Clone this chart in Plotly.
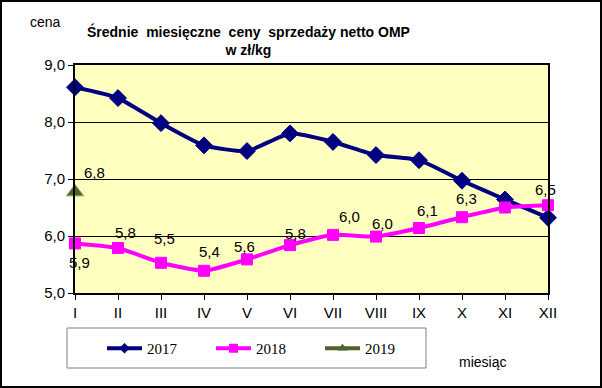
import plotly.graph_objects as go

months = ["I", "II", "III", "IV", "V", "VI", "VII", "VIII", "IX", "X", "XI", "XII"]
y2017 = [8.61, 8.42, 7.98, 7.59, 7.49, 7.80, 7.65, 7.42, 7.33, 6.97, 6.64, 6.32]
y2018 = [5.87, 5.79, 5.53, 5.39, 5.59, 5.84, 6.02, 5.99, 6.14, 6.33, 6.50, 6.54]
y2019 = [6.77]
yticks = [5.0, 6.0, 7.0, 8.0, 9.0]

W, H = 602, 388
ML, MR, MT, MB = 75, 54, 65, 95
PW, PH = W - ML - MR, H - MT - MB

def px2paper_x(px):
    return (px - ML) / PW

def px2paper_y(py):
    return (H - MB - py) / PH

xs = list(range(len(months)))
series = [
    ("2017", y2017, "#000080", "diamond", 13, 8),
    ("2018", y2018, "#FF00FF", "square", 11, 9),
    ("2019", y2019, "#4F6228", "triangle-up", 15, 9),
]
fig = go.Figure()
for name, ys, col, sym, size, _ in series:
    fig.add_trace(go.Scatter(x=xs[:len(ys)], y=ys, name=name, mode="lines+markers",
                             line=dict(color=col, width=4, shape="spline", smoothing=0.5),
                             marker=dict(symbol=sym, size=size, color=col,
                                         line=dict(color="#8AA05A" if name == "2019" else col, width=1)),
                             cliponaxis=False, showlegend=False))
# legend entries (no data, legend only, smaller markers like the original)
for name, ys, col, sym, _, lsize in series:
    fig.add_trace(go.Scatter(x=[None], y=[None], name=name, mode="lines+markers",
                             line=dict(color=col, width=4),
                             marker=dict(symbol=sym, size=lsize, color=col), showlegend=True))

off18 = [(4, 19), (7, -15), (3, -24), (5, -19), (-3, -13), (5, -12),
         (16, -18), (6, -13), (8, -18), (4, -19), None, (-3, -16)]
lab_font = dict(size=15, color="black", family="Liberation Sans")
ann = []
for i, v in enumerate(y2018):
    if off18[i] is None:
        continue
    dx, dy = off18[i]
    ann.append(dict(x=xs[i], y=v, text=f"{v:.1f}".replace(".", ","), showarrow=False,
                    xanchor="center", yanchor="middle", xshift=dx, yshift=-dy, font=lab_font))
ann.append(dict(x=xs[0], y=y2019[0], text=f"{y2019[0]:.1f}".replace(".", ","), showarrow=False,
                xanchor="center", yanchor="middle", xshift=19, yshift=20, font=lab_font))
ann.append(dict(x=px2paper_x(45), y=px2paper_y(22), xref="paper", yref="paper", text="cena",
                xanchor="center", yanchor="middle",
                showarrow=False, font=dict(size=14, color="black", family="Liberation Sans")))
ann.append(dict(x=px2paper_x(482), y=px2paper_y(362), xref="paper", yref="paper", text="miesiąc",
                xanchor="center", yanchor="middle",
                showarrow=False, font=dict(size=14, color="black", family="Liberation Sans")))
ann.append(dict(x=px2paper_x(248), y=px2paper_y(40), xref="paper", yref="paper",
                text="<b>Średnie  miesięczne  ceny  sprzedaży netto OMP<br>w zł/kg</b>",
                xanchor="center", yanchor="middle", align="center",
                showarrow=False, font=dict(size=14, color="black", family="Liberation Sans")))

shapes = [
    dict(type="rect", xref="paper", yref="paper",
         x0=px2paper_x(67), x1=px2paper_x(426), y0=px2paper_y(328), y1=px2paper_y(368),
         line=dict(color="#808080", width=1), fillcolor="white", layer="below"),
    dict(type="rect", xref="paper", yref="paper",
         x0=px2paper_x(1), x1=px2paper_x(W - 1), y0=px2paper_y(1), y1=px2paper_y(H - 1),
         line=dict(color="black", width=2)),
]

fig.update_layout(
    width=W, height=H,
    margin=dict(l=ML, r=MR, t=MT, b=MB),
    paper_bgcolor="white", plot_bgcolor="#FFFFC0",
    separators=", ",
    showlegend=True,
    legend=dict(orientation="h", x=px2paper_x(102), y=px2paper_y(332), xanchor="left", yanchor="top",
                bgcolor="rgba(0,0,0,0)", font=dict(size=15, family="Liberation Serif", color="black"),
                entrywidth=59, itemwidth=35, tracegroupgap=0),
    annotations=ann, shapes=shapes,
    xaxis=dict(range=[0, 11], tickmode="array", tickvals=xs, ticktext=months,
               showgrid=False, zeroline=False, showline=True, linecolor="black", linewidth=2,
               mirror=True, ticks="outside", ticklen=5, tickcolor="black",
               tickfont=dict(size=15, family="Liberation Sans", color="black")),
    yaxis=dict(range=[5, 9], tickmode="array", tickvals=yticks, tickformat=".1f",
               showgrid=True, gridcolor="black", gridwidth=1, zeroline=False,
               showline=True, linecolor="black", linewidth=2, mirror=True,
               ticks="outside", ticklen=5, tickcolor="black",
               tickfont=dict(size=15, family="Liberation Sans", color="black")),
)

fig.write_html("out.html", config={"displayModeBar": False},
               post_script="document.body.style.margin='0';document.body.style.overflow='hidden';")
